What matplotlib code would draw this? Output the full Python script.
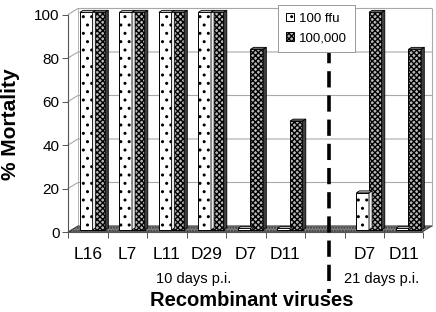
import numpy as np
import matplotlib
matplotlib.use("Agg")
import matplotlib.pyplot as plt
from matplotlib.patches import Polygon, Patch

plt.rcParams["font.family"] = ["Liberation Sans", "DejaVu Sans"]
plt.rcParams["hatch.linewidth"] = 1.0

# data
categories = ["L16", "L7", "L11", "D29", "D7", "D11", "D7", "D11"]
slots = [0, 1, 2, 3, 4, 5, 7, 8]          # slot 6 is the gap with the dashed divider
low_dose = [100, 100, 100, 100, 0, 0, 17, 0]         # 100 ffu
high_dose = [100, 100, 100, 100, 83, 50, 100, 83]    # 100,000
yticks = [0, 20, 40, 60, 80, 100]

XMAX = 9.215
DX, DY = 0.253, 2.76        # depth of floor / back wall
BDX, BDY = 0.08, 0.9        # depth of each bar
BW = 0.32
GRID = "#a8a8a8"
CHECK = "xxxxxx"
DOTS = ".."

fig = plt.figure(figsize=(4.36, 3.12), dpi=100)
ax = fig.add_axes([0.156, 0.2564, 0.9908 - 0.156, 0.9814 - 0.2564])
ax.set_xlim(0, XMAX)
ax.set_ylim(0, 104)
for s in ax.spines.values():
    s.set_visible(False)

# back wall grid + left wall diagonals
for y in yticks:
    ax.plot([0, DX, XMAX], [y, y + DY, y + DY], color=GRID, lw=0.8, zorder=1, clip_on=False)
ax.plot([XMAX, XMAX], [DY, 100 + DY], color=GRID, lw=0.8, zorder=1, clip_on=False)
ax.plot([DX, DX], [DY, 100 + DY], color=GRID, lw=0.6, zorder=1, clip_on=False)

# floor
floor = Polygon([(0, 0), (XMAX - DX, 0), (XMAX, DY), (DX, DY)], closed=True,
                facecolor="#8a8a8a", edgecolor="#333333", hatch="......", lw=0.6, zorder=2)
ax.add_patch(floor)

# front axes lines
ax.plot([0, 0], [0, 100], color="#555555", lw=0.8, zorder=3, clip_on=False)
ax.plot([0, XMAX - DX], [0, 0], color="#555555", lw=0.8, zorder=3, clip_on=False)


def bar3d(x0, v, hatch, face, top_c, side_c):
    h = max(v, 0.7)
    ax.bar(x0, h, BW, bottom=1.0, align="edge", facecolor=face, edgecolor="black",
           hatch=hatch, lw=0.7, zorder=5)
    top = h + 1.0
    ax.add_patch(Polygon([(x0, top), (x0 + BW, top), (x0 + BW + BDX, top + BDY),
                          (x0 + BDX, top + BDY)], closed=True, facecolor=top_c,
                         edgecolor="black", lw=0.6, zorder=6))
    ax.add_patch(Polygon([(x0 + BW, 1.0), (x0 + BW + BDX, 1.0 + BDY),
                          (x0 + BW + BDX, top + BDY), (x0 + BW, top)], closed=True,
                         facecolor=side_c, edgecolor="black", lw=0.6, zorder=6))


for s, lo, hi in zip(slots, low_dose, high_dose):
    bar3d(s + 0.30, lo, DOTS, "white", "#d0d0d0", "#e8e8e8")
    bar3d(s + 0.62, hi, CHECK, "#b8b8b8", "#707070", "#404040")

# ticks
ax.set_yticks(yticks)
ax.set_yticklabels([str(v) for v in yticks], fontsize=11)
ax.tick_params(axis="y", length=4, width=0.7, color="#555555", pad=2)
ax.set_xticks(range(10))
ax.set_xticklabels([])
ax.tick_params(axis="x", which="major", length=4, width=0.7, color="#555555", direction="out")
ax.set_xticks([s + 0.5 for s in slots], minor=True)
ax.set_xticklabels(categories, minor=True, fontsize=12.5)
ax.tick_params(axis="x", which="minor", length=0, pad=11)

# dashed divider between 10 and 21 days
ax.plot([6.61, 6.61], [85, -28], color="black", lw=2.6, ls=(0, (4.5, 2.2)),
        zorder=7, clip_on=False)

fig.text(0.443, 0.106, "10 days p.i.", ha="center", va="center", fontsize=10.5)
fig.text(0.876, 0.106, "21 days p.i.", ha="center", va="center", fontsize=10.5)
fig.text(0.578, 0.036, "Recombinant viruses", ha="center", va="center",
         fontsize=14.5, fontweight="bold")
fig.text(0.024, 0.603, "% Mortality", ha="center", va="center", rotation=90,
         fontsize=15, fontweight="bold")

handles = [Patch(facecolor="white", edgecolor="black", hatch=DOTS, lw=0.7),
           Patch(facecolor="#b8b8b8", edgecolor="black", hatch=CHECK, lw=0.7)]
leg = fig.legend(handles, ["100 ffu", "100,000"], loc="upper left",
                 bbox_to_anchor=(0.638, 0.984), fontsize=9.5, handlelength=0.6,
                 handleheight=0.6, handletextpad=0.35, labelspacing=0.55,
                 borderpad=0.6, borderaxespad=0, fancybox=False, framealpha=1,
                 edgecolor="#999999")
leg.get_frame().set_linewidth(0.7)

fig.savefig("out.png", dpi=100)
